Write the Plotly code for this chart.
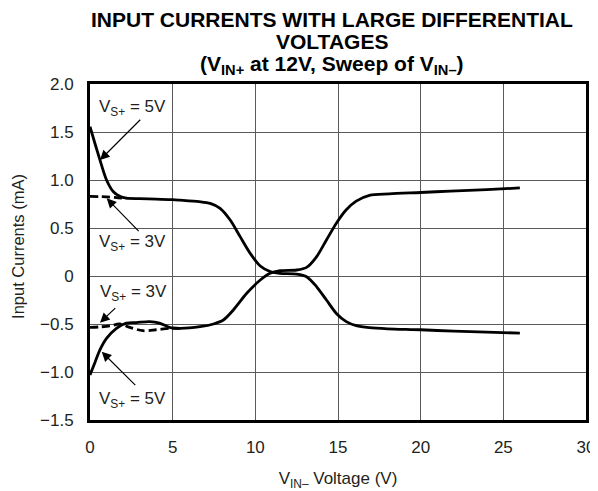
import plotly.graph_objects as go

# Curve A: starts high (VS+ = 5V), crosses to negative side
xa = [0, 0.3, 0.6, 1.0, 1.4, 1.8, 2.2, 3.0, 4.0, 5.0, 5.45, 6.6, 7.27, 7.87, 8.48, 9.08, 9.69, 10.3, 10.9, 11.5, 12.5, 13.1, 13.7, 14.3, 14.9, 15.5, 16.1, 16.9, 18.0, 20.0, 22.0, 24.0, 26.0]
ya = [1.555, 1.38, 1.21, 1.0, 0.88, 0.83, 0.81, 0.805, 0.80, 0.795, 0.79, 0.775, 0.757, 0.705, 0.583, 0.41, 0.236, 0.104, 0.045, 0.028, 0.02, -0.007, -0.11, -0.25, -0.39, -0.475, -0.517, -0.538, -0.55, -0.56, -0.575, -0.585, -0.595]

# Curve A dashed start (VS+ = 3V)
xa3 = [0, 0.6, 1.2, 1.7, 2.2]
ya3 = [0.83, 0.827, 0.822, 0.815, 0.81]

# Curve B: starts low (VS+ = 5V), crosses to positive side
xb = [0, 0.3, 0.6, 1.0, 1.6, 2.2, 2.8, 3.6, 4.2, 4.8, 5.45, 6.66, 7.47, 8.07, 8.67, 9.48, 10.3, 10.9, 11.5, 12.5, 13.1, 13.7, 14.3, 14.9, 15.5, 16.1, 16.9, 18.1, 20.0, 21.8, 24.0, 26.0]
yb = [-1.03, -0.9, -0.77, -0.65, -0.545, -0.49, -0.485, -0.475, -0.49, -0.535, -0.545, -0.528, -0.5, -0.458, -0.354, -0.18, -0.042, 0.028, 0.055, 0.0625, 0.09, 0.2, 0.375, 0.55, 0.69, 0.78, 0.84, 0.855, 0.87, 0.885, 0.90, 0.917]

# Curve B dashed start (VS+ = 3V)
xb3 = [0, 0.6, 1.2, 1.8, 2.4, 3.2, 4.0, 4.8, 5.45]
yb3 = [-0.535, -0.53, -0.52, -0.50, -0.535, -0.57, -0.56, -0.545, -0.545]

x_ticks = [0, 5, 10, 15, 20, 25, 30]
y_ticks = [-1.5, -1.0, -0.5, 0, 0.5, 1.0, 1.5, 2.0]
y_ticktext = ["\u22121.5", "\u22121.0", "\u22120.5", "0", "0.5", "1.0", "1.5", "2.0"]

title_lines = [
    "INPUT CURRENTS WITH LARGE DIFFERENTIAL",
    "VOLTAGES",
    "(V<sub>IN+</sub> at 12V, Sweep of V<sub>IN\u2013</sub>)",
]
y_title = "Input Currents (mA)"
x_title = "V<sub>IN\u2013</sub> Voltage (V)"

FONT = "Liberation Sans, Arial, sans-serif"
INK = "#231f20"

fig = go.Figure()
line_style = dict(color="black", width=2.8, shape="spline", smoothing=0.8)
fig.add_trace(go.Scatter(x=xa3, y=ya3, mode="lines", line=dict(line_style, dash="8px,4px"), hoverinfo="skip"))
fig.add_trace(go.Scatter(x=xb3, y=yb3, mode="lines", line=dict(line_style, dash="8px,4px"), hoverinfo="skip"))
fig.add_trace(go.Scatter(x=xa, y=ya, mode="lines", line=line_style, hoverinfo="skip"))
fig.add_trace(go.Scatter(x=xb, y=yb, mode="lines", line=line_style, hoverinfo="skip"))

labels = [
    ("V<sub>S+</sub> = 5V", 2.6, 1.75),
    ("V<sub>S+</sub> = 3V", 2.6, 0.345),
    ("V<sub>S+</sub> = 3V", 2.66, -0.176),
    ("V<sub>S+</sub> = 5V", 2.6, -1.29),
]
annotations = []
for t, x, y in labels:
    annotations.append(dict(text=t, x=x, y=y, xref="x", yref="y", showarrow=False,
                            font=dict(family=FONT, size=17, color=INK), xanchor="center", yanchor="middle"))

arrows = [
    (3.13, 1.643, 0.606, 1.208),
    (3.03, 0.451, 1.01, 0.809),
    (1.62, -0.32, 0.606, -0.486),
    (2.83, -1.153, 0.71, -0.789),
]
for tx, ty, hx, hy in arrows:
    annotations.append(dict(text="", x=hx, y=hy, ax=tx, ay=ty, xref="x", yref="y", axref="x", ayref="y",
                            showarrow=True, arrowhead=2, arrowsize=1.6, arrowwidth=1.2, arrowcolor="black",
                            standoff=0, startstandoff=0))

title_y_px = [19, 41.5, 65]
for t, py in zip(title_lines, title_y_px):
    annotations.append(dict(
        text="<b>" + t + "</b>", x=0.488, y=(420 - py) / 336, xref="paper", yref="paper",
        showarrow=False, xanchor="center", yanchor="middle", align="center",
        font=dict(family=FONT, size=21, color="black")))

# y-axis title placed as rotated text (slightly above the plot centre as in the reference)
annotations.append(dict(
    text=y_title, x=(18 - 90) / 495.7, y=(420 - 246) / 336, xref="paper", yref="paper",
    showarrow=False, textangle=-90, xanchor="center", yanchor="middle", borderpad=0,
    font=dict(family=FONT, size=16.5, color=INK)))

# the page body adds an 8px margin, so the figure is 8px smaller and margins shifted
fig.update_layout(
    width=590, height=483,
    margin=dict(l=82, r=12, t=76, b=71),
    paper_bgcolor="white", plot_bgcolor="white",
    showlegend=False,
    font=dict(family=FONT, size=17, color=INK),
    annotations=annotations,
    xaxis=dict(range=[0, 30], tickvals=x_ticks, ticktext=[str(v) for v in x_ticks],
               showgrid=True, gridcolor="#5a5a5a", gridwidth=1,
               showline=True, mirror=True, linecolor="black", linewidth=3,
               zeroline=False, ticks="", ticklabelstandoff=10, automargin=False,
               tickfont=dict(family=FONT, size=17, color=INK),
               title=dict(text=x_title, font=dict(family=FONT, size=17, color=INK), standoff=24)),
    yaxis=dict(range=[-1.5, 2.0], tickvals=y_ticks, ticktext=y_ticktext,
               showgrid=True, gridcolor="#5a5a5a", gridwidth=1,
               showline=True, mirror=True, linecolor="black", linewidth=3,
               zeroline=False, ticks="", ticklabelstandoff=10, automargin=False,
               tickfont=dict(family=FONT, size=17, color=INK)),
)

fig.write_html("out.html")
